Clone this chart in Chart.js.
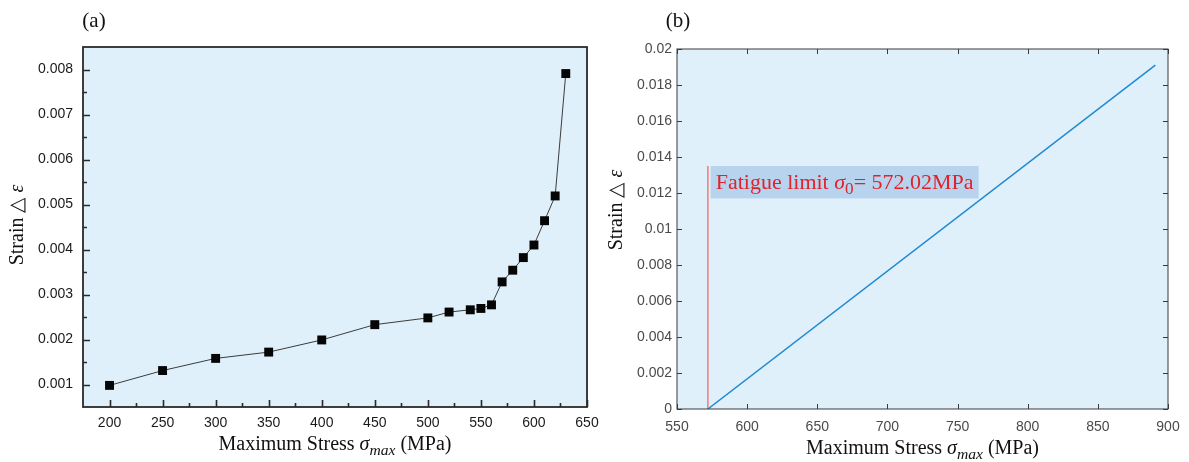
<!DOCTYPE html>
<html>
<head>
<meta charset="utf-8">
<script src="https://cdn.jsdelivr.net/npm/chart.js@4.4.1/dist/chart.umd.min.js"></script>
<style>
  body { margin: 0; background: #fff; }
  #wrap { position: relative; width: 1189px; height: 462px; }
  #wrap canvas { position: absolute; top: 0; }
  #left { left: 0; }
  #right { left: 600px; }
</style>
</head>
<body>
<div id="wrap">
  <canvas id="left" width="600" height="462"></canvas>
  <canvas id="right" width="589" height="462"></canvas>
</div>
<script>
// (a) measured strain against maximum stress
const stressA = [200, 250, 300, 350, 400, 450, 500, 520, 540, 550, 560, 570, 580, 590, 600, 610, 620, 630];
const strainA = [0.00098, 0.00131, 0.00158, 0.00172, 0.00199, 0.00233, 0.00248, 0.00261, 0.00266, 0.00269,
                 0.00277, 0.00328, 0.00354, 0.00382, 0.00410, 0.00464, 0.00519, 0.00791];
const xTicksA = [200, 250, 300, 350, 400, 450, 500, 550, 600, 650];
const xMinorA = [225, 275, 325, 375, 425, 475, 525, 575, 625];
const yTicksA = [0.001, 0.002, 0.003, 0.004, 0.005, 0.006, 0.007, 0.008];
const yMinorA = [0.0015, 0.0025, 0.0035, 0.0045, 0.0055, 0.0065, 0.0075];

// (b) fitted line and the fatigue limit marker
const fatigueLimit = 572.02;
const fitStress = [572.02, 891];
const fitStrain = [0, 0.0191];
const limitStrain = [0, 0.0135];
const xTicksB = [550, 600, 650, 700, 750, 800, 850, 900];
const yTicksB = [0, 0.002, 0.004, 0.006, 0.008, 0.01, 0.012, 0.014, 0.016, 0.018, 0.02];
const noteBox = [574, 765, 0.0117, 0.0135]; // x0, x1, y0, y1 in data units

const SERIF = '"Liberation Serif", "Times New Roman", serif';
const SANS = '"Liberation Sans", Arial, sans-serif';
const PLOT_BG = '#dff0fa';

// draws a line of mixed normal / italic / subscript runs, centred on (x, y)
function richText(ctx, parts, x, y, size, rot, color) {
  ctx.save();
  ctx.translate(x, y);
  ctx.rotate(rot || 0);
  ctx.fillStyle = color || '#111';
  ctx.textBaseline = 'alphabetic';
  ctx.textAlign = 'left';
  const fontOf = p => (p.i ? 'italic ' : '') + (p.sub ? size * 0.78 : size) + 'px ' + SERIF;
  let w = 0;
  parts.forEach(p => { ctx.font = fontOf(p); w += ctx.measureText(p.t).width; });
  let cx = -w / 2;
  parts.forEach(p => {
    ctx.font = fontOf(p);
    ctx.fillText(p.t, cx, size * 0.35 + (p.sub ? size * 0.25 : 0));
    cx += ctx.measureText(p.t).width;
  });
  ctx.restore();
}

const xTitle = [{t: 'Maximum Stress '}, {t: 'σ', i: true}, {t: 'max', i: true, sub: true}, {t: ' (MPa)'}];
const yTitle = [{t: 'Strain △ '}, {t: 'ε', i: true}];

const plotBg = {
  id: 'plotBg',
  beforeDraw(chart) {
    const {ctx, chartArea: a} = chart;
    ctx.save();
    ctx.fillStyle = PLOT_BG;
    ctx.fillRect(a.left, a.top, a.right - a.left, a.bottom - a.top);
    ctx.restore();
  }
};

// box round the plot with inward tick marks
const frame = {
  id: 'frame',
  afterDraw(chart, args, o) {
    const {ctx, chartArea: a, scales: {x, y}} = chart;
    ctx.save();
    ctx.strokeStyle = o.color;
    ctx.lineWidth = o.width;
    ctx.strokeRect(a.left, a.top, a.right - a.left, a.bottom - a.top);
    ctx.lineWidth = o.tickWidth;
    ctx.beginPath();
    const xt = (vals, len) => vals.forEach(v => {
      const p = Math.round(x.getPixelForValue(v)) + 0.5;
      ctx.moveTo(p, a.bottom); ctx.lineTo(p, a.bottom - len);
      if (o.mirror) { ctx.moveTo(p, a.top); ctx.lineTo(p, a.top + len); }
    });
    const yt = (vals, len) => vals.forEach(v => {
      const p = Math.round(y.getPixelForValue(v)) + 0.5;
      ctx.moveTo(a.left, p); ctx.lineTo(a.left + len, p);
      if (o.mirror) { ctx.moveTo(a.right, p); ctx.lineTo(a.right - len, p); }
    });
    xt(x.ticks.map(t => t.value), o.major);
    yt(y.ticks.map(t => t.value), o.major);
    if (o.xMinor) xt(o.xMinor, o.minor);
    if (o.yMinor) yt(o.yMinor, o.minor);
    ctx.stroke();
    ctx.restore();
  }
};

const titles = {
  id: 'titles',
  afterDraw(chart, args, o) {
    const ctx = chart.ctx;
    ctx.save();
    ctx.font = '21px ' + SERIF;
    ctx.fillStyle = '#111';
    ctx.textAlign = 'center';
    ctx.textBaseline = 'middle';
    ctx.fillText(o.panel, o.panelX, 21);
    ctx.restore();
    richText(ctx, yTitle, o.yTitleX, o.yTitleY, 20, -Math.PI / 2);
    const a = chart.chartArea;
    richText(ctx, xTitle, (a.left + a.right) / 2, o.xTitleY, 20, 0);
  }
};

// red note next to the fatigue limit line
const note = {
  id: 'note',
  afterDatasetsDraw(chart) {
    const {ctx, scales: {x, y}} = chart;
    const l = x.getPixelForValue(noteBox[0]), r = x.getPixelForValue(noteBox[1]);
    const t = y.getPixelForValue(noteBox[3]), b = y.getPixelForValue(noteBox[2]);
    ctx.save();
    ctx.fillStyle = '#b7d3ee';
    ctx.fillRect(l, t, r - l, b - t);
    ctx.restore();
    const parts = [{t: 'Fatigue limit '}, {t: 'σ', i: true}, {t: '0', sub: true},
                   {t: '= ' + fatigueLimit.toFixed(2) + 'MPa'}];
    richText(ctx, parts, (l + r) / 2, (t + b) / 2 - 1, 22, 0, '#e3212b');
  }
};

const fixTicks = vals => scale => { scale.ticks = vals.map(v => ({value: v})); };
// keep the plot box where the layout padding puts it
const fixSize = (w, h) => scale => {
  if (w) scale.width = w;
  if (h) scale.height = h;
  scale.paddingLeft = scale.paddingRight = 0;
};

new Chart(document.getElementById('left'), {
  type: 'line',
  data: {
    datasets: [{
      data: stressA.map((s, i) => ({x: s, y: strainA[i]})),
      borderColor: '#3c3c3c',
      borderWidth: 1,
      pointStyle: 'rect',
      pointRadius: 6.3,
      pointBackgroundColor: '#050505',
      pointBorderWidth: 0,
      tension: 0
    }]
  },
  options: {
    responsive: false,
    animation: false,
    events: [],
    layout: {padding: {top: 47, right: 13, left: 0, bottom: 0}},
    plugins: {
      legend: {display: false},
      tooltip: {enabled: false},
      frame: {color: '#2a2a2a', width: 1.8, tickWidth: 1.6, major: 7, minor: 4, mirror: false,
              xMinor: xMinorA, yMinor: yMinorA},
      titles: {panel: '(a)', panelX: 94, yTitleX: 16, yTitleY: 225, xTitleY: 443}
    },
    scales: {
      x: {
        type: 'linear', min: 175, max: 650,
        afterBuildTicks: fixTicks(xTicksA),
        afterFit: fixSize(0, 55),
        grid: {display: false, drawTicks: false},
        border: {display: false},
        ticks: {padding: 8, color: '#1a1a1a', font: {family: SANS, size: 14}, maxRotation: 0}
      },
      y: {
        type: 'linear', min: 0.0005, max: 0.0085,
        afterBuildTicks: fixTicks(yTicksA),
        afterFit: fixSize(83, 0),
        grid: {display: false, drawTicks: false},
        border: {display: false},
        ticks: {padding: 10, color: '#1a1a1a', font: {family: SANS, size: 14},
                callback: v => v.toFixed(3)}
      }
    }
  },
  plugins: [plotBg, frame, titles]
});

new Chart(document.getElementById('right'), {
  type: 'line',
  data: {
    datasets: [{
      data: fitStress.map((s, i) => ({x: s, y: fitStrain[i]})),
      borderColor: '#1f8ad2',
      borderWidth: 1.5,
      pointRadius: 0
    }, {
      data: limitStrain.map(v => ({x: fatigueLimit, y: v})),
      borderColor: '#f27a7a',
      borderWidth: 1.5,
      pointRadius: 0
    }]
  },
  options: {
    responsive: false,
    animation: false,
    events: [],
    layout: {padding: {top: 49, right: 21, left: 0, bottom: 0}},
    plugins: {
      legend: {display: false},
      tooltip: {enabled: false},
      frame: {color: '#3a3a3a', width: 1, tickWidth: 1, major: 5, minor: 0, mirror: true},
      titles: {panel: '(b)', panelX: 78, yTitleX: 15, yTitleY: 210, xTitleY: 447}
    },
    scales: {
      x: {
        type: 'linear', min: 550, max: 900,
        afterBuildTicks: fixTicks(xTicksB),
        afterFit: fixSize(0, 53),
        grid: {display: false, drawTicks: false},
        border: {display: false},
        ticks: {padding: 10, color: '#4a4a4a', font: {family: SANS, size: 14}, maxRotation: 0}
      },
      y: {
        type: 'linear', min: 0, max: 0.02,
        afterBuildTicks: fixTicks(yTicksB),
        afterFit: fixSize(77, 0),
        grid: {display: false, drawTicks: false},
        border: {display: false},
        ticks: {padding: 5, color: '#4a4a4a', font: {family: SANS, size: 14},
                callback: v => String(+v.toFixed(3))}
      }
    }
  },
  plugins: [plotBg, frame, note, titles]
});
</script>
</body>
</html>
